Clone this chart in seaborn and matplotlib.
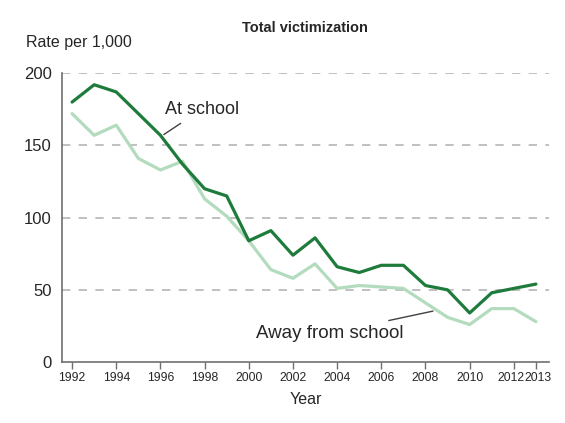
import numpy as np
import pandas as pd
import matplotlib
matplotlib.use("Agg")
import matplotlib.pyplot as plt
import matplotlib.transforms as mtrans
import seaborn as sns

# values (rate per 1,000 students)
years = list(range(1992, 2014))
at_school = [180, 192, 187, 172, 157, 137, 120, 115, 84, 91, 74, 86,
             66, 62, 67, 67, 53, 50, 34, 48, 51, 54]
away_school = [172, 157, 164, 141, 133, 139, 113, 101, 84, 64, 58, 68,
               51, 53, 52, 51, 41, 31, 26, 37, 37, 28]
xtick_years = [1992, 1994, 1996, 1998, 2000, 2002, 2004, 2006, 2008, 2010, 2012, 2013]
ytick_vals = [0, 50, 100, 150, 200]

df = pd.DataFrame({
    "Year": years * 2,
    "Rate": at_school + away_school,
    "Location": ["At school"] * len(years) + ["Away from school"] * len(years),
})

sns.set_style("white")
plt.rcParams['font.family'] = ['Liberation Sans', 'DejaVu Sans']

fig = plt.figure(figsize=(5.65, 4.23), dpi=100)
ax = fig.add_axes([0.11, 0.144, 0.862, 0.683])

palette = {"At school": "#1e7b3c", "Away from school": "#b3dbbd"}
sns.lineplot(data=df, x="Year", y="Rate", hue="Location", palette=palette,
             linewidth=2.3, legend=False, ax=ax,
             hue_order=["Away from school", "At school"])

ax.set_xlim(1991.55, 2013.6)
ax.set_ylim(0, 200)
for s in ["top", "right"]:
    ax.spines[s].set_visible(False)
for s in ["left", "bottom"]:
    ax.spines[s].set_color("#707070")
    ax.spines[s].set_linewidth(1.2)
ax.tick_params(axis="x", bottom=True, length=5, color="#707070", width=1, pad=2)
ax.tick_params(axis="y", left=False, pad=4)

ax.set_xticks(xtick_years)
ax.set_xticklabels([str(y) for y in xtick_years], fontsize=8.7)
ax.set_yticks(ytick_vals)
ax.set_yticklabels([str(v) for v in ytick_vals], fontsize=12)
for v in ytick_vals[1:]:
    ax.axhline(v, color="#b5b5b5", linestyle=(0, (5, 5)), linewidth=1.2, zorder=0)

# nudge the two crowded labels at the right end apart
labs = ax.get_xticklabels()
for lab, dx in [(labs[-2], -2.5), (labs[-1], 2.5)]:
    lab.set_transform(lab.get_transform() +
                      mtrans.ScaledTranslation(dx / 100, 0, fig.dpi_scale_trans))

ax.set_xlabel("Year", fontsize=11.5, labelpad=6)
ax.set_ylabel("")
fig.text(0.046, 0.9, "Rate per 1,000", fontsize=11.5, ha="left", va="center")
fig.text(0.54, 0.933, "Total victimization", fontsize=10.5, fontweight="bold",
         ha="center", va="center")

ax.annotate("At school", xy=(1996.1, 157), xytext=(1996.2, 175),
            fontsize=13, ha="left", va="center",
            arrowprops=dict(arrowstyle="-", color="#404040", lw=1,
                            shrinkA=3, shrinkB=1))
ax.annotate("Away from school", xy=(2008.4, 35.5), xytext=(2007.0, 20),
            fontsize=13.5, ha="right", va="center",
            arrowprops=dict(arrowstyle="-", color="#404040", lw=1,
                            shrinkA=3, shrinkB=1))

fig.savefig("out.png", dpi=100)
